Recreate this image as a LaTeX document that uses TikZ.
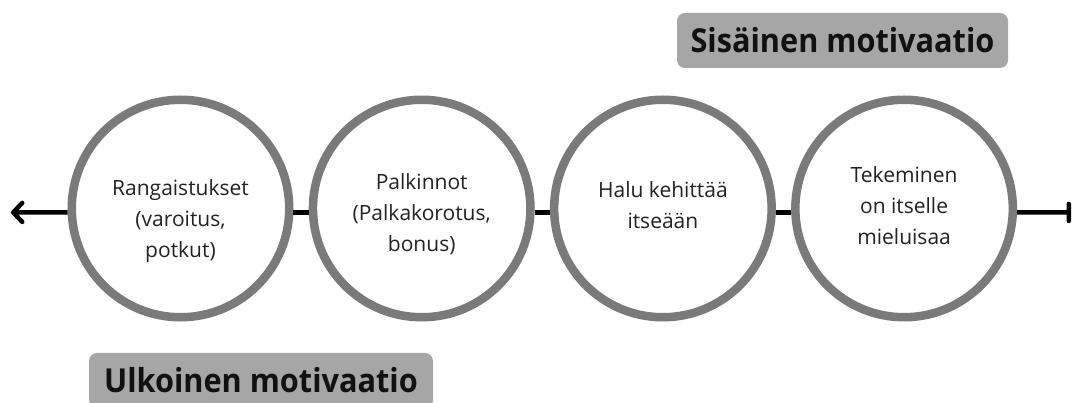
\documentclass[tikz,border=0pt]{standalone}
\usepackage{fontspec}
\setmainfont{Open Sans}
\newfontfamily\headfont{Open Sans}[FakeStretch=0.93]
\usetikzlibrary{arrows.meta}
\definecolor{ringgray}{HTML}{7A7A7A}
\definecolor{tagfill}{HTML}{A6A6A6}
\definecolor{bodyink}{HTML}{222222}
\definecolor{headink}{HTML}{111111}
\tikzset{
  ring/.style={circle, draw=ringgray, line width=8.5pt, fill=white,
    minimum size=217.5pt, inner sep=0pt},
  % base anchor sits on the last line's baseline
  ringtext/.style={anchor=base, align=center, text=bodyink,
    font=\fontsize{21}{31}\selectfont},
  tag/.style={fill=tagfill, rounded corners=8pt, minimum height=55pt,
    inner sep=0pt, text=headink,
    font=\headfont\bfseries\fontsize{33}{36}\selectfont},
  axisline/.style={line width=4.5pt, black},
}
\begin{document}
\begin{tikzpicture}[x=1pt,y=-1pt]
\useasboundingbox (0,0) rectangle (1074,403);
\clip (0,0) rectangle (1074,403);

% headings
\node[tag, minimum width=331pt] (inner) at (842.5,40.5) {Sisäinen motivaatio};
\node[tag, minimum width=344pt] (outer) at (261,380.5) {Ulkoinen motivaatio};

% the four stages
\node[ring] (r1) at (180.5,208.5) {};
\node[ring] (r2) at (421.7,208.5) {};
\node[ring] (r3) at (662.9,208.5) {};
\node[ring] (r4) at (904.1,208.5) {};

\node[ringtext] (t1) at (180.5,258) {Rangaistukset\\(varoitus,\\potkut)};
\node[ringtext] (t2) at (421.7,252) {Palkinnot\\(Palkakorotus,\\bonus)};
\node[ringtext] (t3) at (662.9,229) {Halu kehittää\\itseään};
\node[ringtext] (t4) at (904.1,245) {Tekeminen\\on itselle\\mieluisaa};

% axis ends
\coordinate (wend) at (11,212.4);
\coordinate (eend) at (1071,212.4);

% axis
\draw[axisline, -{Straight Barb[length=9pt,width=19pt,round]}] (r1.182) -- (wend);
\draw[axisline] (r1.-2) -- (r2.182);
\draw[axisline] (r2.-2) -- (r3.182);
\draw[axisline] (r3.-2) -- (r4.182);
\draw[axisline, -{Bar[width=17pt,round]}] (r4.-2) -- (eend);
\end{tikzpicture}
\end{document}
